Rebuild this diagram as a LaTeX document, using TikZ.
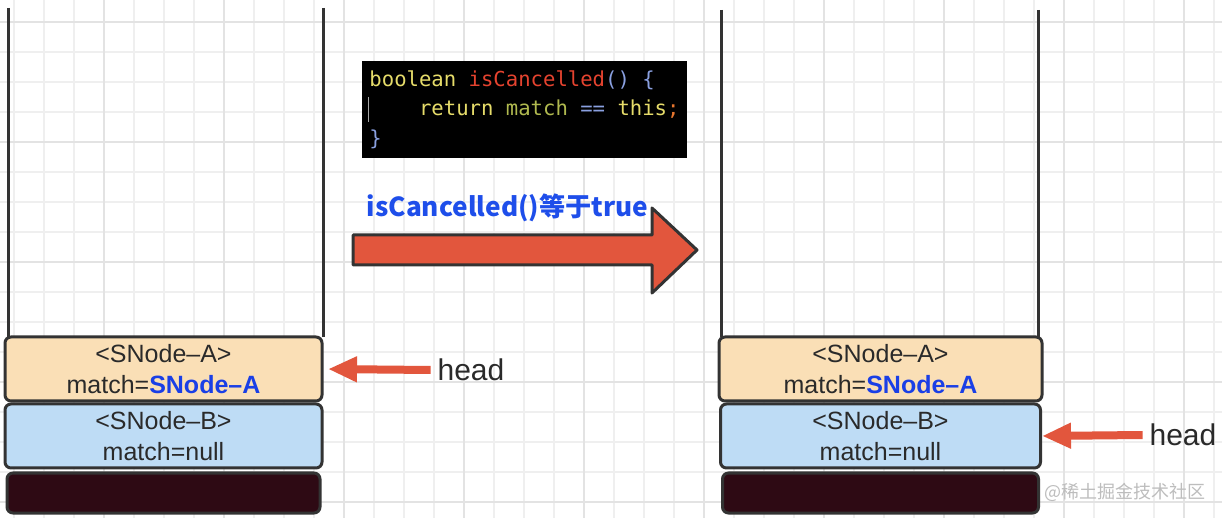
\documentclass[tikz,border=0pt]{standalone}
\usepackage{fontspec}
\setmainfont{Liberation Sans}
\newfontfamily\codefont{DejaVu Sans Mono}
\newfontfamily\cjk{Noto Sans CJK SC}
\usetikzlibrary{arrows.meta,positioning}
\newcommand\csp{\hspace*{0.602em}}
\definecolor{gridminor}{HTML}{EFEFEF}
\definecolor{gridmajor}{HTML}{E3E3E3}
\definecolor{edgegray}{HTML}{333333}
\definecolor{textgray}{HTML}{2A2A2A}
\definecolor{peach}{HTML}{FADFB6}
\definecolor{skyblue}{HTML}{BEDCF5}
\definecolor{darkslot}{HTML}{2E0A14}
\definecolor{matchblue}{HTML}{1A3FE6}
\definecolor{labelblue}{HTML}{1E4EEA}
\definecolor{arrowred}{HTML}{E2563D}
\definecolor{kwyellow}{HTML}{E6DC6A}
\definecolor{fnred}{HTML}{E5432F}
\definecolor{pblue}{HTML}{8AA0E0}
\definecolor{vargreen}{HTML}{B0B94F}
\definecolor{semiorange}{HTML}{E8762F}
\definecolor{wmgray}{HTML}{BDBDBD}

\begin{document}
\begin{tikzpicture}
  [
    x=0.5pt, y=-0.5pt,
    wall/.style={draw=edgegray, line width=1.5pt},
    snode/.style={draw=edgegray, line width=1.5pt, rounded corners=3pt,
      minimum width=158.5pt, minimum height=32pt, inner sep=0pt, align=center,
      text=textgray, font=\fontsize{12.5}{15.5}\selectfont},
    codebox/.style={fill=black, minimum width=162.5pt, minimum height=48.5pt,
      inner sep=0pt, align=left,
      font=\codefont\fontsize{10.3}{14.75}\selectfont},
    headtext/.style={text=textgray, font=\fontsize{15}{17}\selectfont},
    headarrow/.style={draw=arrowred, line width=4pt,
      -{Triangle[length=14.5pt, width=12pt]}},
    bigarrow/.style={fill=arrowred, draw=edgegray, line width=1.5pt, line join=round}
  ]
  \useasboundingbox (0,0) rectangle (1222,518);
  \fill [white] (0,0) rectangle (1222,518);
  \foreach \gx in {14,44,...,1214}
    \draw [gridminor, line width=0.6pt] (\gx,0) -- (\gx,518);
  \foreach \gy in {22,52,...,502}
    \draw [gridminor, line width=0.6pt] (0,\gy) -- (1222,\gy);
  \foreach \gx in {104,224,...,1184}
    \draw [gridmajor, line width=0.9pt] (\gx,0) -- (\gx,518);
  \foreach \gy in {22,142,...,502}
    \draw [gridmajor, line width=0.9pt] (0,\gy) -- (1222,\gy);

  \draw [wall] (8,8) -- (8,337);
  \draw [wall] (323,8) -- (323,337);
  \node [snode, fill=peach] at (163.5,369) (boxLA) {<SNode–A>\\match=\textcolor{matchblue}{\bfseries SNode–A}};
  \node [snode, fill=skyblue, below=0pt of boxLA] (boxLB) {<SNode–B>\\match=null};
  \node [snode, fill=darkslot, minimum width=156.5pt, minimum height=20pt, below=1pt of boxLB] (boxLC) {};

  \draw [wall] (721,10) -- (721,337);
  \draw [wall] (1038,10) -- (1038,337);
  \node [snode, fill=peach, minimum width=161.5pt] at (880.5,369) (boxRA) {<SNode–A>\\match=\textcolor{matchblue}{\bfseries SNode–A}};
  \node [snode, fill=skyblue, minimum width=160pt, below=0pt of boxRA] (boxRB) {<SNode–B>\\match=null};
  \node [snode, fill=darkslot, minimum width=158pt, minimum height=20pt, below=1pt of boxRB] (boxRC) {};

  \node [codebox] at (524.5,109.5) (code) {\textcolor{kwyellow}{boolean}\csp\textcolor{fnred}{isCancelled}\textcolor{pblue}{()\csp\{}\\
    \hspace*{2.408em}\textcolor{kwyellow}{return}\csp\textcolor{vargreen}{match}\csp\textcolor{pblue}{==}\csp\textcolor{kwyellow}{this}\textcolor{semiorange}{;}\\
    \textcolor{pblue}{\}}};
  \draw [gray!70, line width=0.5pt] (368,97) -- (368,122);

  \node [text=labelblue, font=\cjk\bfseries\fontsize{13.1}{15}\selectfont] at (507.5,208) (cancelled) {isCancelled()等于true};
  \draw [bigarrow] (353,235) -- (652,235) -- (652,208) -- (697,250) -- (652,293) -- (652,265) -- (353,265) -- cycle;

  \node [headtext] at (471,370) (headL) {head};
  \draw [headarrow, shorten >=2.25pt] (headL.west) -- (boxLA.east);
  \node [headtext] at (1183,435) (headR) {head};
  \draw [headarrow] (headR.west) -- (boxRB.east);

  \node [text=wmgray, font=\cjk\fontsize{9}{10}\selectfont] at (1125,492) (mark) {@稀土掘金技术社区};

\end{tikzpicture}
\end{document}
